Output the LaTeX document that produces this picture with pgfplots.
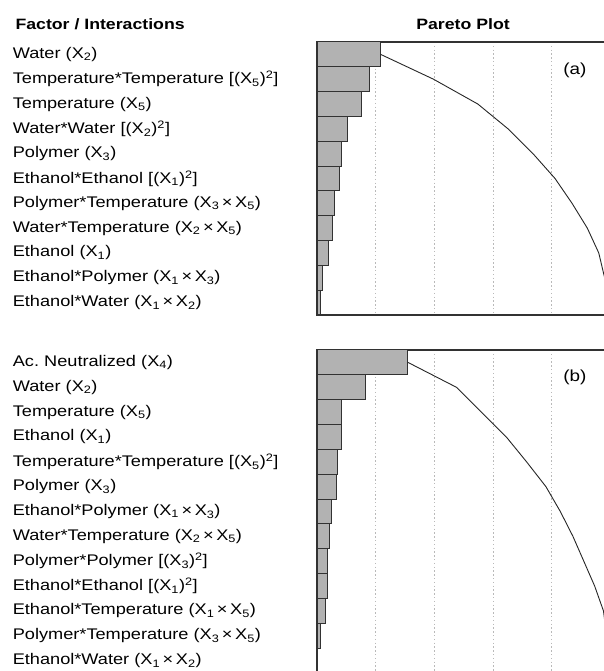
\documentclass[border=0pt]{standalone}
\usepackage{fontspec}
\setmainfont{Liberation Sans}[FakeStretch=1.18]
\usepackage{pgfplots}
\pgfplotsset{compat=1.18}

\definecolor{barfill}{RGB}{178,178,178}
\definecolor{edge}{RGB}{50,50,50}

\pgfplotsset{
  pareto/.style={
    scale only axis,
    anchor=north west,
    width=293.5pt,
    xmin=0, xmax=100,
    ymin=0.5, y dir=reverse,
    xtick={20,40,60,80},
    xticklabels={},
    xmajorgrids,
    major grid style={gray!55, line width=0.8pt, dash pattern=on 1.4pt off 2.4pt},
    major tick length=0pt,
    axis line style={edge, line width=1.3pt},
    yticklabel style={anchor=east, text width=300pt, align=left,
      inner sep=0pt, xshift=-4pt, font=\fontsize{15.4}{18}\selectfont},
  },
  bars/.style={xbar, bar width=1, fill=barfill, draw=edge, line width=1pt},
  cumline/.style={black!85, line width=0.9pt, mark=none},
}

\newcommand{\X}[1]{X\textsubscript{#1}}

\begin{document}
\frenchspacing
\begin{tikzpicture}
\path[use as bounding box] (0,0) rectangle (604pt,671pt);
\clip (0,0) rectangle (604pt,671pt);

\node[anchor=west, font=\bfseries\fontsize{15}{18}\selectfont] at (12pt,647pt) {Factor / Interactions};
\node[font=\bfseries\fontsize{15}{18}\selectfont] at (463pt,647pt) {Pareto Plot};

% panel (a)
\begin{axis}[pareto, at={(317pt,629pt)}, height=273pt, ymax=11.5,
  ytick={1,...,11},
  yticklabels={
    {Water (\X{2})},
    {Temperature*Temperature [(\X{5})\textsuperscript{2}]},
    {Temperature (\X{5})},
    {Water*Water [(\X{2})\textsuperscript{2}]},
    {Polymer (\X{3})},
    {Ethanol*Ethanol [(\X{1})\textsuperscript{2}]},
    {Polymer*Temperature (\X{3}\,×\,\X{5})},
    {Water*Temperature (\X{2}\,×\,\X{5})},
    {Ethanol (\X{1})},
    {Ethanol*Polymer (\X{1}\,×\,\X{3})},
    {Ethanol*Water (\X{1}\,×\,\X{2})}}]
\addplot[bars] coordinates {
  (21.7,1) (18.0,2) (15.1,3) (10.3,4) (8.5,5) (7.5,6)
  (5.8,7) (5.2,8) (3.9,9) (2.0,10) (1.3,11)};
\addplot[cumline] coordinates {
  (21.7,1) (39.7,2) (54.8,3) (65.1,4) (73.6,5) (81.1,6)
  (86.9,7) (92.1,8) (96.0,9) (98.0,10) (99.3,11)};
\node[font=\fontsize{16}{19}\selectfont] at (rel axis cs:0.879,0.897) {(a)};
\end{axis}

% panel (b)
\begin{axis}[pareto, at={(317pt,321pt)}, height=323pt, ymax=13.5,
  ytick={1,...,13},
  yticklabels={
    {Ac. Neutralized (\X{4})},
    {Water (\X{2})},
    {Temperature (\X{5})},
    {Ethanol (\X{1})},
    {Temperature*Temperature [(\X{5})\textsuperscript{2}]},
    {Polymer (\X{3})},
    {Ethanol*Polymer (\X{1}\,×\,\X{3})},
    {Water*Temperature (\X{2}\,×\,\X{5})},
    {Polymer*Polymer [(\X{3})\textsuperscript{2}]},
    {Ethanol*Ethanol [(\X{1})\textsuperscript{2}]},
    {Ethanol*Temperature (\X{1}\,×\,\X{5})},
    {Polymer*Temperature (\X{3}\,×\,\X{5})},
    {Ethanol*Water (\X{1}\,×\,\X{2})}}]
\addplot[bars] coordinates {
  (31.0,1) (16.5,2) (8.5,3) (8.5,4) (6.9,5) (6.6,6) (4.9,7)
  (4.3,8) (3.7,9) (3.7,10) (3.0,11) (1.1,12) (0.3,13)};
\addplot[cumline] coordinates {
  (31.0,1) (47.5,2) (56.0,3) (64.5,4) (71.4,5) (78.0,6) (82.9,7)
  (87.2,8) (90.9,9) (94.6,10) (97.6,11) (98.7,12) (99.0,13)};
\node[font=\fontsize{16}{19}\selectfont] at (rel axis cs:0.879,0.916) {(b)};
\end{axis}
\end{tikzpicture}
\end{document}
